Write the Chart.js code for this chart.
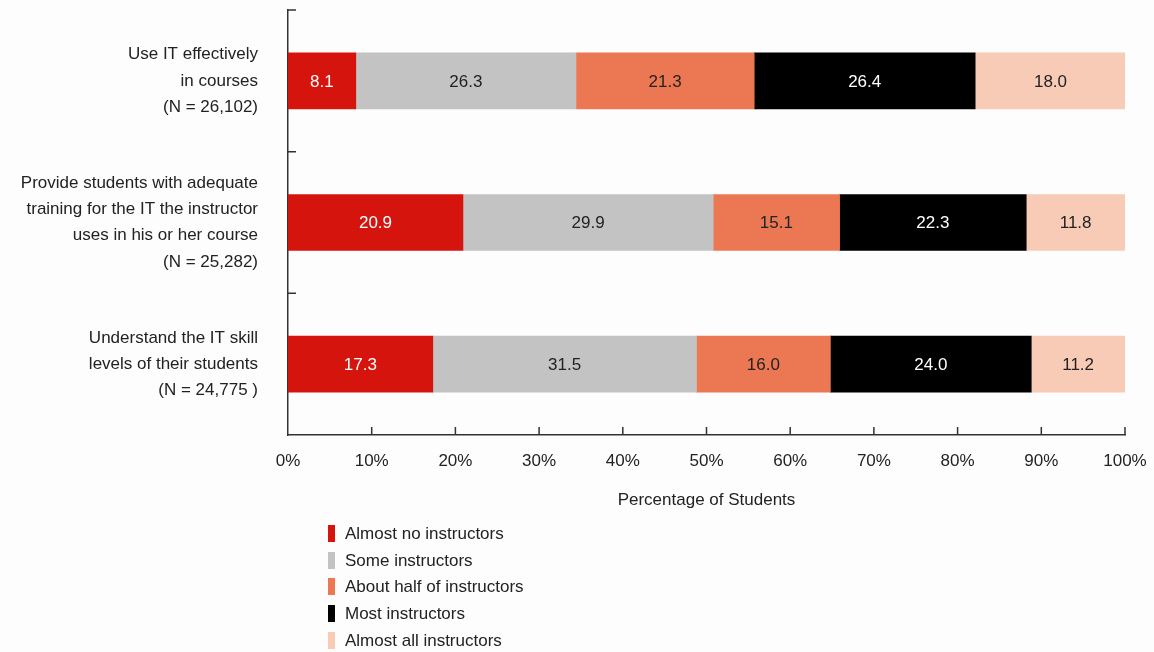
<!DOCTYPE html>
<html>
<head>
<meta charset="utf-8">
<script src="https://cdn.jsdelivr.net/npm/chart.js@4/dist/chart.umd.min.js"></script>
<style>
  body { margin: 0; background: #fdfdfd; font-family: "Liberation Sans", Arial, sans-serif; }
  #wrap { position: relative; width: 1154px; height: 652px; }
  #legend { position: absolute; left: 328px; top: 521px; color: #222; font-size: 17px; }
  #legend div { height: 26.7px; line-height: 26.7px; white-space: nowrap; }
  #legend span { display: inline-block; width: 7px; height: 17px; margin-right: 10px; vertical-align: -3px; }
</style>
</head>
<body>
<div id="wrap">
  <canvas id="chart" width="1154" height="652"></canvas>
  <div id="legend"></div>
</div>
<script>
const categories = [
  ["Use IT effectively", "in courses", "(N = 26,102)"],
  ["Provide students with adequate", "training for the IT the instructor", "uses in his or her course", "(N = 25,282)"],
  ["Understand the IT skill", "levels of their students", "(N = 24,775 )"]
];
const seriesNames = ["Almost no instructors", "Some instructors", "About half of instructors", "Most instructors", "Almost all instructors"];
const almostNo = [8.1, 20.9, 17.3];
const some = [26.3, 29.9, 31.5];
const aboutHalf = [21.3, 15.1, 16.0];
const most = [26.4, 22.3, 24.0];
const almostAll = [18.0, 11.8, 11.2];
const xTicks = [0, 10, 20, 30, 40, 50, 60, 70, 80, 90, 100];

const colors = ["#d5150d", "#c3c3c3", "#ec7853", "#000000", "#f7cbb5"];
const labelColors = ["#ffffff", "#222222", "#222222", "#ffffff", "#222222"];
const seriesValues = [almostNo, some, aboutHalf, most, almostAll];

const datasets = seriesValues.map((vals, i) => ({
  label: seriesNames[i],
  data: vals,
  backgroundColor: colors[i],
  borderWidth: 0,
  barThickness: 56
}));

// values in the middle of each segment
const valueLabels = {
  id: "valueLabels",
  afterDatasetsDraw(chart) {
    const ctx = chart.ctx;
    ctx.save();
    ctx.font = "17px 'Liberation Sans', Arial, sans-serif";
    ctx.textAlign = "center";
    ctx.textBaseline = "middle";
    chart.data.datasets.forEach((ds, i) => {
      chart.getDatasetMeta(i).data.forEach((bar, j) => {
        const p = bar.getProps(["x", "y", "base"], true);
        ctx.fillStyle = labelColors[i];
        ctx.fillText(ds.data[j].toFixed(1), (p.x + p.base) / 2, p.y + 1);
      });
    });
    ctx.restore();
  }
};

// tick marks pointing into the plot
const innerTicks = {
  id: "innerTicks",
  afterDraw(chart) {
    const { ctx, scales: { x, y } } = chart;
    ctx.save();
    ctx.strokeStyle = "#333";
    ctx.lineWidth = 1.5;
    ctx.beginPath();
    xTicks.slice(1).forEach(v => {
      const px = x.getPixelForValue(v);
      ctx.moveTo(px, y.bottom);
      ctx.lineTo(px, y.bottom - 8);
    });
    const step = (y.bottom - y.top) / categories.length;
    for (let i = 0; i < categories.length; i++) {
      const py = y.top + i * step;
      ctx.moveTo(x.left, py);
      ctx.lineTo(x.left + 8, py);
    }
    ctx.stroke();
    ctx.restore();
  }
};

new Chart(document.getElementById("chart"), {
  type: "bar",
  data: { labels: categories, datasets },
  options: {
    indexAxis: "y",
    responsive: false,
    animation: false,
    layout: { padding: { top: 10, right: 29, bottom: 137, left: 0 } },
    plugins: { legend: { display: false }, tooltip: { enabled: false } },
    scales: {
      x: {
        stacked: true,
        min: 0,
        max: 100,
        afterBuildTicks: s => { s.ticks = xTicks.map(v => ({ value: v })); },
        afterFit: s => { s.height = 80; s.paddingLeft = 0; s.paddingRight = 0; },
        grid: { display: false },
        border: { display: true, color: "#333", width: 1.5 },
        ticks: {
          padding: 8,
          color: "#222",
          font: { family: "'Liberation Sans', Arial, sans-serif", size: 17 },
          callback: v => v + "%"
        },
        title: {
          display: true,
          text: "Percentage of Students",
          color: "#222",
          font: { family: "'Liberation Sans', Arial, sans-serif", size: 17 },
          padding: { top: 24 }
        }
      },
      y: {
        stacked: true,
        afterFit: s => { s.width = 288; s.paddingTop = 0; s.paddingBottom = 0; },
        grid: { display: false },
        border: { display: true, color: "#333", width: 1.5 },
        ticks: {
          padding: 22,
          color: "#222",
          font: { family: "'Liberation Sans', Arial, sans-serif", size: 17, lineHeight: 1.55 }
        }
      }
    }
  },
  plugins: [valueLabels, innerTicks]
});

document.getElementById("legend").innerHTML = seriesNames
  .map((n, i) => `<div><span style="background:${colors[i]}"></span>${n}</div>`)
  .join("");
</script>
</body>
</html>
